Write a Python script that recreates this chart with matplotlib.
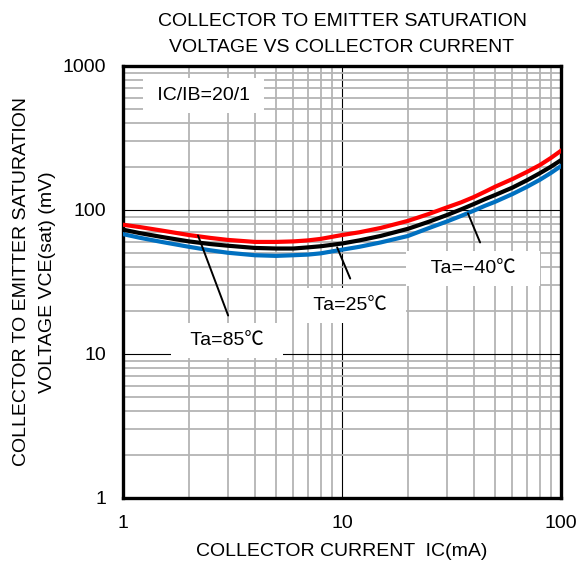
import matplotlib.pyplot as plt
from matplotlib.ticker import LogLocator, NullFormatter, FixedLocator, FixedFormatter

# 拉丁字母用Liberation Sans, ℃ 缺字时退到CJK字体
plt.rcParams['font.family'] = ['Liberation Sans', 'Noto Sans CJK JP']

# 读图得到的数据 (IC in mA, VCE(sat) in mV)
icValues = [1, 1.2, 1.5, 2, 2.5, 3, 4, 5, 6, 7, 8, 10, 12, 15, 20, 25, 30, 35, 40, 45, 50, 60, 70, 80, 90, 100]
vce85 = [79, 76, 72, 67, 64, 62, 60, 60, 60.5, 61.5, 63, 67, 70, 75, 84, 94, 104, 113, 123, 134, 145, 164, 184, 205, 230, 258]
vce25 = [73, 69, 65, 60.5, 58, 56.5, 54.5, 54, 54, 55, 56, 58.5, 61.5, 66, 74, 83, 92, 101, 110, 119, 127, 143, 161, 180, 200, 222]
vceM40 = [68, 64, 60, 55.5, 52.5, 50.5, 48.5, 48, 48.5, 49, 50, 53, 55.5, 59.5, 66, 75, 83, 91, 99, 107, 114, 129, 145, 162, 181, 202]

xTicks = [1, 10, 100]
xTickLabels = ['1', '10', '100']
yTicks = [1, 10, 100, 1000]
yTickLabels = ['1', '10', '100', '1000']

fig = plt.figure(figsize=(5.77, 5.62), dpi=100, facecolor='white')
ax = fig.add_axes([0.2132, 0.1139, 0.7591, 0.7687])
ax.set_xscale('log')
ax.set_yscale('log')
ax.set_xlim(1, 100)
ax.set_ylim(1, 1000)

# 网格: 十倍线黑色, 其余灰色
ax.xaxis.set_minor_locator(LogLocator(base=10, subs=range(2, 10)))
ax.yaxis.set_minor_locator(LogLocator(base=10, subs=range(2, 10)))
ax.xaxis.set_minor_formatter(NullFormatter())
ax.yaxis.set_minor_formatter(NullFormatter())
ax.grid(which='minor', color='#b4b4b4', lw=1.3, zorder=0)
ax.grid(which='major', color='black', lw=0.8, zorder=0)
ax.set_axisbelow(True)

ax.xaxis.set_major_locator(FixedLocator(xTicks))
ax.xaxis.set_major_formatter(FixedFormatter(xTickLabels))
ax.yaxis.set_major_locator(FixedLocator(yTicks))
ax.yaxis.set_major_formatter(FixedFormatter(yTickLabels))
ax.tick_params(which='both', length=0, labelsize=14)
ax.tick_params(axis='x', pad=12)
ax.tick_params(axis='y', pad=12)
for sp in ax.spines.values():
  sp.set_linewidth(2.4)

ax.plot(icValues, vceM40, color='#0070c0', lw=3, zorder=3)
ax.plot(icValues, vce25, color='black', lw=3, zorder=3)
ax.plot(icValues, vce85, color='#ff0000', lw=3, zorder=3)

boxProps = dict(boxstyle='square,pad=0.45', fc='white', ec='none')
lineProps = dict(arrowstyle='-', color='black', lw=1.4, shrinkA=0, shrinkB=0)

ax.text(2.34, 624, ' IC/IB=20/1 ', ha='center', va='center', fontsize=14, bbox=boxProps, zorder=2)

# 温度标签, 先放白底文本再画引线
ax.text(2.98, 12.4, '  Ta=85℃  ', ha='center', va='center', fontsize=14, bbox=boxProps, zorder=2)
ax.annotate('', xy=(2.2, 66.5), xytext=(3.02, 18.5), arrowprops=lineProps, zorder=4)
ax.text(10.9, 21.7, '  Ta=25℃  ', ha='center', va='center', fontsize=14, bbox=boxProps, zorder=2)
ax.annotate('', xy=(9.5, 55), xytext=(10.9, 33.4), arrowprops=lineProps, zorder=4)
ax.text(39.7, 39.3, '   Ta=\u221240℃   ', ha='center', va='center', fontsize=14, bbox=boxProps, zorder=2)
ax.annotate('', xy=(37.6, 94.6), xytext=(42.7, 59.5), arrowprops=lineProps, zorder=4)

ax.set_title('COLLECTOR TO EMITTER SATURATION\nVOLTAGE VS COLLECTOR CURRENT',
  fontsize=14, linespacing=1.7, pad=10)
ax.set_xlabel('COLLECTOR CURRENT  IC(mA)', fontsize=14, labelpad=8)
ax.set_ylabel('COLLECTOR TO EMITTER SATURATION\nVOLTAGE VCE(sat) (mV)', fontsize=14,
  linespacing=1.7, labelpad=5)

fig.savefig('out.png', dpi=100)
